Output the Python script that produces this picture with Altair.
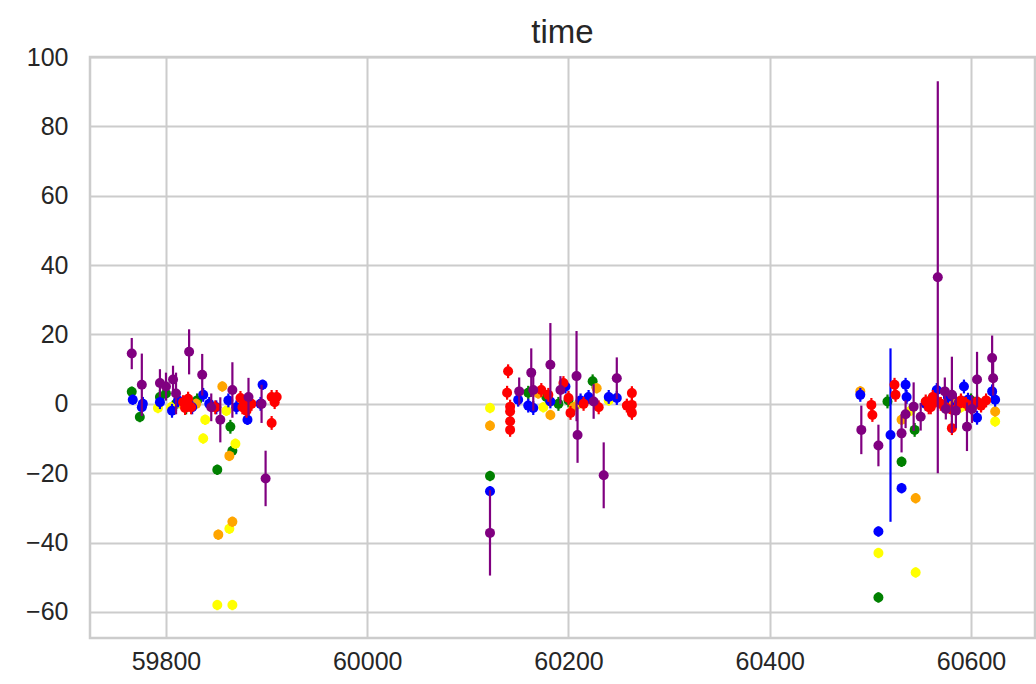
import altair as alt
import pandas as pd

# ---- data (mjd, flux, flux error) per band ----
purple_mjd = [59766, 59776, 59794, 59800, 59807, 59810, 59823, 59836, 59845, 59854, 59866, 59882, 59895, 59899,
              60122, 60151, 60163, 60165, 60182, 60192, 60208, 60209, 60225, 60235, 60248,
              60491, 60508, 60531, 60535, 60543, 60550, 60567, 60574, 60575, 60581, 60585, 60596, 60601, 60606, 60621, 60622]
purple_flux = [14.5, 5.5, 6, 5, 7, 3, 15, 8.4, -1, -4.6, 4, 2, 0, -21.5,
               -37.2, 3.6, 9, 4, 11.3, 4, 8, -9, 0.7, -20.6, 7.4,
               -7.5, -12, -8.5, -3, -0.8, -3.7, 36.5, 3.6, -1.5, 2.6, -2, -6.6, -1.5, 7, 13.2, 7.4]
purple_err = [4.5, 9, 4, 4, 4, 6, 6.5, 6, 4, 6.5, 8, 5.5, 5.5, 8,
              12.3, 4, 7, 6, 12, 4, 13, 8, 5, 9.5, 6,
              7, 6, 5.5, 4, 7, 4, 56.5, 4, 3, 11, 5, 7, 4, 8, 6.5, 5]

blue_mjd = [59767, 59777, 59776, 59794, 59806, 59812, 59826, 59837, 59843, 59850, 59862, 59870, 59881, 59894, 59896,
            60122, 60150, 60160, 60165, 60182, 60197, 60212, 60220, 60240, 60248,
            60490, 60508, 60520, 60531, 60535, 60536, 60555, 60566, 60577, 60584, 60593, 60597, 60606, 60621, 60624]
blue_flux = [1.2, 0, -1, 0.5, -2, 1, -1, 2.6, 0, -1, 1, -1, -4.6, 0, 5.5,
             -25.2, 1.2, -0.5, -1.2, 0.7, 5, 1, 2, 2, 1.7,
             2.6, -36.8, -9, -24.3, 5.5, 2, 0, 4, 2, -1, 5, 1.2, -4, 3.6, 1.2]
blue_err = [1.5, 2, 1.5, 2, 2, 2, 2, 2, 2, 2, 2, 2, 1.5, 2, 1.5,
            1.5, 2, 2, 2, 2, 2, 2, 2, 2, 2,
            2, 1.5, 25, 1.5, 2, 2, 2, 2, 2, 2, 2, 2, 2, 2, 2]

green_mjd = [59766, 59774, 59794, 59800, 59810, 59820, 59831, 59851, 59864, 59866, 59881,
             60122, 60160, 60178, 60190, 60200, 60224,
             60508, 60517, 60531, 60544, 60560, 60580, 60600]
green_flux = [3.5, -3.8, 2, 3, 0, -1, 1, -19, -6.6, -13.5, -1,
              -20.8, 3.2, 2, 0, 1, 6.5,
              -55.8, 0.7, -16.7, -7.5, 1, 0, 1]
green_err = [1.5, 1.5, 2, 2, 2, 2, 2, 1.5, 2, 1.5, 2,
             1.5, 2, 2, 2, 2, 2,
             1.5, 2, 1.5, 2, 2, 2, 2]

yellow_mjd = [59792, 59805, 59815, 59837, 59839, 59851, 59860, 59863, 59866, 59869, 59875,
              60122, 60175, 60210, 60240,
              60508, 60540, 60545, 60570, 60590, 60624]
yellow_flux = [-1.2, -1, 0, -10, -4.6, -58, -2, -36, -58, -11.5, 0,
               -1.2, -1, 0, 1,
               -43, -2, -48.6, 0, -1, -5.1]
yellow_err = [1.5] * 21

orange_mjd = [59830, 59852, 59856, 59863, 59866, 59880,
              60122, 60170, 60182, 60205, 60228,
              60490, 60531, 60545, 60580, 60624]
orange_flux = [0, -37.7, 5, -15, -34, 1,
               -6.3, 3, -3.2, -1, 4.5,
               3.6, -4.6, -27.2, 1, -2.2]
orange_err = [1.5] * 16

red_mjd = [59817, 59819, 59822, 59825, 59849, 59874, 59876, 59878, 59880, 59885, 59905, 59905, 59908, 59910,
           60140, 60139, 60142, 60142, 60142, 60142, 60173, 60180, 60195, 60200, 60202, 60215, 60230,
           60258, 60263, 60263, 60263,
           60501, 60502, 60524, 60525, 60555, 60558, 60560, 60562, 60565, 60570, 60575, 60581, 60581, 60588,
           60590, 60595, 60600, 60606, 60610, 60615]
red_flux = [0.5, -1.2, 1.5, -1, -1, 1.7, -1, 0.5, -2, 0, 2, -5.5, 0.5, 2,
            9.4, 3.2, -0.8, -2.2, -5, -7.5, 4, 2.6, 6, 1.7, -2.6, 0, -1,
            -0.5, 3.1, -0.3, -2.6,
            -0.3, -3.2, 5.5, 2.6, 0.7, -1, -1, 2, 1, 0, -1, -1.7, -7, 0,
            1, 0, -1, 0.7, -0.5, 1]
red_err = [2] * len(red_mjd)

bands = ["green", "yellow", "orange", "blue", "red", "purple"]
band_colors = ["#008000", "#FFFF00", "#FFA500", "#0000FF", "#FF0000", "#800080"]

x_ticks = [59800, 60000, 60200, 60400, 60600]
y_ticks = [-60, -40, -20, 0, 20, 40, 60, 80, 100]
x_domain = [59724.5, 60663.6]
y_domain = [-67.5, 100]
TITLE_TEXT = "time"

series = {
    "green": (green_mjd, green_flux, green_err),
    "yellow": (yellow_mjd, yellow_flux, yellow_err),
    "orange": (orange_mjd, orange_flux, orange_err),
    "blue": (blue_mjd, blue_flux, blue_err),
    "red": (red_mjd, red_flux, red_err),
    "purple": (purple_mjd, purple_flux, purple_err),
}
rows = []
for i, b in enumerate(bands):
    m, f, e = series[b]
    for a, c, d in zip(m, f, e):
        rows.append({"band": b, "order": i, "mjd": a, "flux": c, "err": d})
df = pd.DataFrame(rows)

FONT = "Liberation Sans"
TXT = "#262626"

color = alt.Color("band:N", scale=alt.Scale(domain=bands, range=band_colors), legend=None)
xenc = alt.X("mjd:Q", scale=alt.Scale(domain=x_domain, nice=False, zero=False),
             axis=alt.Axis(values=x_ticks, title=None, format="d"))
yenc = alt.Y("flux:Q", scale=alt.Scale(domain=y_domain, nice=False, zero=False),
             axis=alt.Axis(values=y_ticks, title=None, format="d"))

base = alt.Chart(df).transform_calculate(lo="datum.flux - datum.err", hi="datum.flux + datum.err")

layers = []
for b in bands:
    sub = base.transform_filter(alt.datum.band == b)
    layers.append(sub.mark_rule(strokeWidth=2.2, clip=True).encode(
        x=xenc, y=alt.Y("lo:Q", scale=alt.Scale(domain=y_domain, nice=False, zero=False)), y2="hi:Q", color=color))
    layers.append(sub.mark_circle(size=100, opacity=1, clip=True).encode(x=xenc, y=yenc, color=color))

title = alt.Chart(pd.DataFrame({"t": [TITLE_TEXT]})).mark_text(
    font=FONT, fontSize=33, color=TXT, baseline="alphabetic", align="center"
).encode(text="t:N", x=alt.value(472.5), y=alt.value(-14))

chart = alt.layer(*layers, title).properties(
    width=945, height=581,
    autosize="none",
    padding={"left": 90, "top": 57, "right": 1, "bottom": 46},
).configure_view(
    stroke="#cccccc", strokeWidth=2.5
).configure_axis(
    grid=True, gridColor="#cccccc", gridWidth=2, domain=False, ticks=False,
    labelFont=FONT, labelFontSize=25, labelColor=TXT
).configure_axisX(labelPadding=11).configure_axisY(labelPadding=22)

chart.save("out.html", embed_options={"renderer": "svg", "actions": False})
